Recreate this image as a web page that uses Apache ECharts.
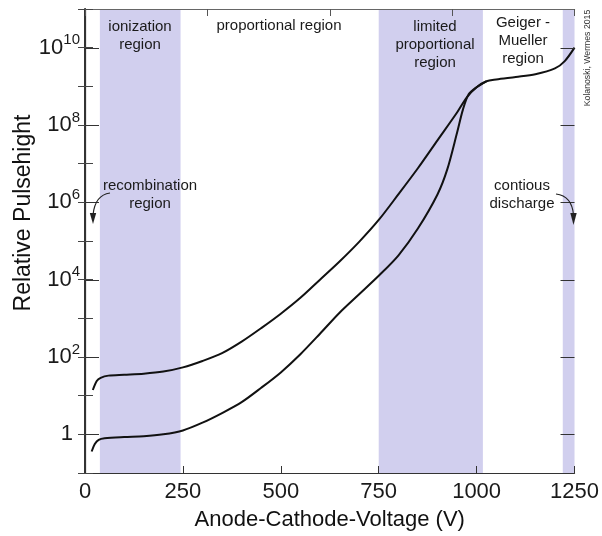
<!DOCTYPE html>
<html><head><meta charset="utf-8">
<script src="https://cdn.jsdelivr.net/npm/echarts@6/dist/echarts.min.js"></script>
<style>html,body{margin:0;padding:0;background:#fff}#c{width:602px;height:536px}</style>
</head><body><div id="c"></div>
<script>
// ---- data ----
const xTickValues = [0, 250, 500, 750, 1000, 1250];
const yLabelExponents = [0, 2, 4, 6, 8, 10];
const majorTickValues = [1, 1e2, 1e4, 1e6, 1e8, 1e10];

const upperVoltage = [20, 30, 40, 60, 100, 150, 200, 250, 300, 350, 400, 450, 500, 550, 600, 650, 700, 750, 800, 850, 900, 950, 975, 1000, 1025, 1050, 1100, 1150, 1200, 1225, 1250];
const upperPulse   = [14, 24, 29, 33, 34.7, 37, 42, 54, 79, 126, 250, 560, 1320, 3400, 1.0e4, 2.95e4, 9.5e4, 3.5e5, 1.6e6, 7.6e6, 4.0e7, 2.1e8, 5.2e8, 9.5e8, 1.35e9, 1.5e9, 1.74e9, 2.05e9, 2.9e9, 4.5e9, 1e10];

const lowerVoltage = [17, 25, 35, 50, 100, 150, 200, 250, 300, 350, 400, 450, 500, 550, 600, 650, 700, 750, 800, 850, 900, 925, 950, 965, 980, 1000, 1025];
const lowerPulse   = [0.36, 0.56, 0.72, 0.79, 0.85, 0.89, 1.0, 1.26, 2.0, 3.55, 6.8, 16, 40, 118, 400, 1400, 4200, 12600, 42000, 2.1e5, 1.6e6, 7.1e6, 6.3e7, 2.5e8, 6.3e8, 9.5e8, 1.35e9];

const shadedFrom = [38, 750, 1220];
const shadedTo   = [244, 1016, 1250];

const regionLabels = ['ionization\nregion', 'proportional region', 'limited\nproportional\nregion', 'Geiger -\nMueller\nregion'];
const noteLabels = ['recombination\nregion', 'contious\ndischarge'];
const xName = 'Anode-Cathode-Voltage (V)';
const yName = 'Relative Pulsehight';
const credit = 'Kolanoski, Wermes 2015';

// ---- chart ----
const FONT = '"Liberation Sans", Arial, Helvetica, sans-serif';
const zip = (a, b) => a.map((v, i) => [v, b[i]]);
const chart = echarts.init(document.getElementById('c'), null, {renderer: 'canvas'});

function yLabel(v) {
  const e = Math.round(Math.log10(v));
  if (!yLabelExponents.includes(e)) return '';
  if (e === 0) return '{one|1}';
  return '{b|10}{s|' + e + '}';
}

const logAxis = {
  type: 'log', logBase: 10, min: 0.1, max: 1e11, interval: 1, gridIndex: 0, z: 10,
  splitLine: {show: false}, minorTick: {show: false}
};

const textStyleBase = {fontFamily: FONT, fill: '#1a1a1a', fontSize: 15, align: 'center', verticalAlign: 'middle', lineHeight: 18};
const txt = (x, y, text) => ({type: 'text', x, y, z: 100, style: Object.assign({}, textStyleBase, {text})});

// long ticks at every second decade, placed through the axis scale
function majorTickRender(params, api) {
  const v = api.value(0);
  const l = api.coord([0, v]);
  const r = api.coord([1250, v]);
  const st = {stroke: '#333', lineWidth: 1};
  return {type: 'group', children: [
    {type: 'line', shape: {x1: l[0], y1: Math.round(l[1]) + 0.5, x2: l[0] + 14, y2: Math.round(l[1]) + 0.5}, style: st},
    {type: 'line', shape: {x1: r[0] - 14, y1: Math.round(r[1]) + 0.5, x2: r[0], y2: Math.round(r[1]) + 0.5}, style: st}
  ]};
}

const option = {
  animation: false,
  backgroundColor: '#fff',
  grid: {left: 85, right: 23, top: 9, bottom: 63, containLabel: false},
  xAxis: [{
    type: 'value', min: 0, max: 1250, interval: 250, position: 'bottom', z: 10,
    name: xName, nameLocation: 'middle', nameGap: 36,
    nameTextStyle: {fontFamily: FONT, fontSize: 22, color: '#111'},
    axisLine: {show: true, lineStyle: {color: '#333', width: 1.2}},
    axisTick: {show: true, inside: true, length: 7, lineStyle: {color: '#333'}},
    axisLabel: {fontFamily: FONT, fontSize: 22, color: '#1a1a1a', margin: 8,
      formatter: v => xTickValues.includes(v) ? String(v) : ''},
    splitLine: {show: false}
  }, {
    type: 'value', min: 0, max: 1250, interval: 312.5, position: 'top', z: 10,
    axisLine: {show: true, lineStyle: {color: '#666', width: 1.2}},
    axisTick: {show: true, inside: true, length: 7, lineStyle: {color: '#555'}},
    axisLabel: {show: false}, splitLine: {show: false}
  }],
  yAxis: [
    Object.assign({}, logAxis, {
      position: 'left',
      axisLine: {show: true, lineStyle: {color: '#111', width: 1.2}},
      axisTick: {show: true, inside: true, length: 8, lineStyle: {color: '#444'}},
      axisLabel: {
        fontFamily: FONT, color: '#1a1a1a', margin: 5, formatter: yLabel,
        rich: {
          b: {fontFamily: FONT, fontSize: 22, lineHeight: 22, verticalAlign: 'bottom', color: '#1a1a1a'},
          s: {fontFamily: FONT, fontSize: 15, lineHeight: 15, verticalAlign: 'bottom', padding: [0, 0, 11, 0], color: '#1a1a1a'},
          one: {fontFamily: FONT, fontSize: 22, lineHeight: 22, padding: [0, 7, 0, 0], color: '#1a1a1a'}
        }
      }
    }),
    Object.assign({}, logAxis, {
      position: 'right',
      axisLine: {show: true, lineStyle: {color: '#333', width: 2}},
      axisTick: {show: true, inside: true, length: 7, lineStyle: {color: '#444'}},
      axisLabel: {show: false}
    })
  ],
  series: [{
    name: 'upper', type: 'line', xAxisIndex: 0, yAxisIndex: 0,
    data: zip(upperVoltage, upperPulse), smooth: 0.3, showSymbol: false, symbol: 'none',
    lineStyle: {color: '#111', width: 2}, z: 5,
    markArea: {
      silent: true, z: 1,
      itemStyle: {color: '#d1cfee'},
      data: shadedFrom.map((f, i) => [{xAxis: f}, {xAxis: shadedTo[i]}])
    }
  }, {
    name: 'lower', type: 'line', xAxisIndex: 0, yAxisIndex: 0,
    data: zip(lowerVoltage, lowerPulse), smooth: 0.3, showSymbol: false, symbol: 'none',
    lineStyle: {color: '#111', width: 2}, z: 5
  }, {
    name: 'majorTicks', type: 'custom', xAxisIndex: 0, yAxisIndex: 0, silent: true, z: 20, clip: false,
    data: majorTickValues.map(v => [v]),
    encode: {y: 0},
    renderItem: majorTickRender
  }],
  graphic: [
    txt(140, 36, regionLabels[0]),
    txt(279, 26, regionLabels[1]),
    txt(435, 45, regionLabels[2]),
    txt(523, 41, regionLabels[3]),
    txt(150, 194.5, noteLabels[0]),
    txt(522, 194.5, noteLabels[1]),
    {type: 'text', x: 24, y: 213, z: 100, rotation: Math.PI / 2,
      style: {text: yName, fontFamily: FONT, fontSize: 23, fill: '#111', align: 'center', verticalAlign: 'middle'}},
    {type: 'text', x: 588, y: 58, z: 100, rotation: Math.PI / 2,
      style: {text: credit, fontFamily: FONT, fontSize: 8.7, fill: '#333', align: 'center', verticalAlign: 'middle'}},
    // arrows
    {type: 'bezierCurve', z: 100, shape: {x1: 110, y1: 193, cpx1: 95, cpy1: 195, x2: 93, y2: 215},
      style: {stroke: '#222', lineWidth: 1.2, fill: null}},
    {type: 'polygon', z: 100, shape: {points: [[89.8, 213], [96.2, 213], [93, 224]]}, style: {fill: '#222'}},
    {type: 'bezierCurve', z: 100, shape: {x1: 556, y1: 194, cpx1: 572, cpy1: 196, x2: 573.5, y2: 215},
      style: {stroke: '#222', lineWidth: 1.2, fill: null}},
    {type: 'polygon', z: 100, shape: {points: [[570.3, 213], [576.7, 213], [573.5, 225]]}, style: {fill: '#222'}}
  ]
};
chart.setOption(option);
</script>
</body></html>
